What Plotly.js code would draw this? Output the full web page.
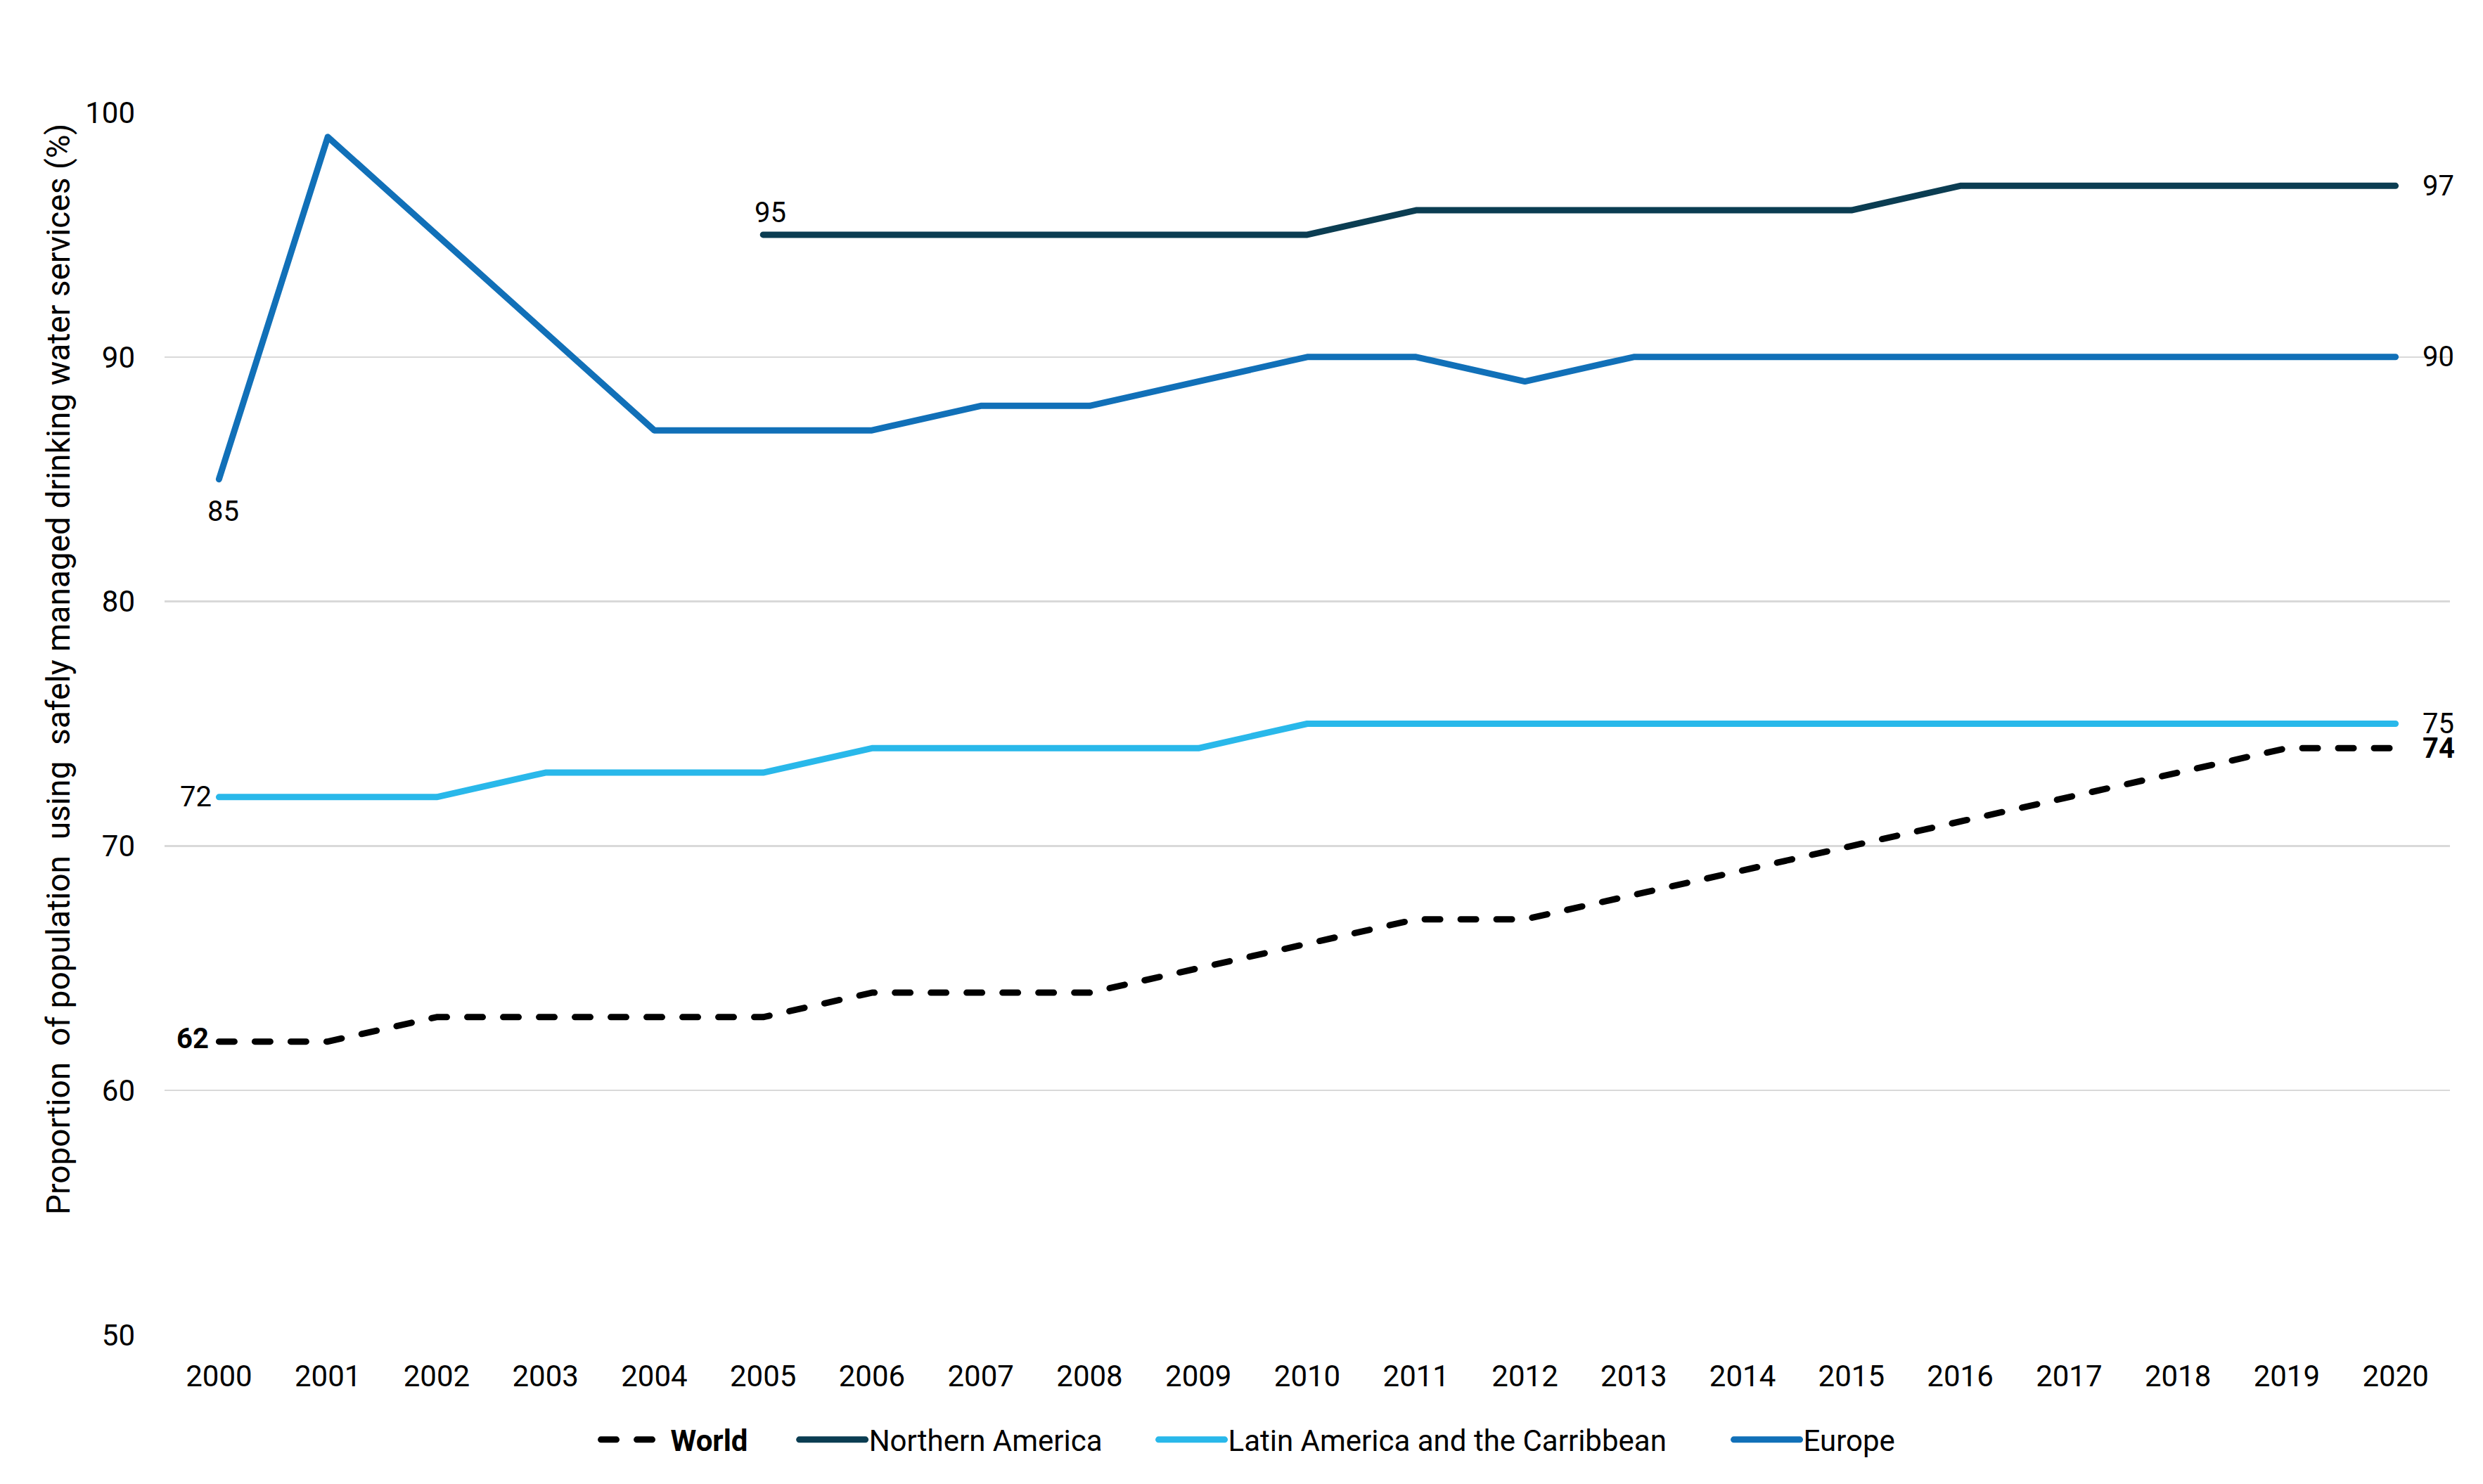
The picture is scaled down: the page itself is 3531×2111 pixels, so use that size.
<!DOCTYPE html>
<html>
<head>
<meta charset="utf-8">
<script src="https://cdn.plot.ly/plotly-3.0.1.min.js"></script>
<style>
html,body{margin:0;padding:0;background:#fff;}
#chart{width:3531px;height:2111px;}
.scatterlayer path.js-line, .legendlines path{stroke-linecap:round;stroke-linejoin:round;}
</style>
</head>
<body>
<div id="chart"></div>
<script>
const years = ['2000','2001','2002','2003','2004','2005','2006','2007','2008','2009','2010','2011','2012','2013','2014','2015','2016','2017','2018','2019','2020'];
const world = [62,62,63,63,63,63,64,64,64,65,66,67,67,68,69,70,71,72,73,74,74];
const northernAmerica = [null,null,null,null,null,95,95,95,95,95,95,96,96,96,96,96,97,97,97,97,97];
const latinAmerica = [72,72,72,73,73,73,74,74,74,74,75,75,75,75,75,75,75,75,75,75,75];
const europe = [85,99,95,91,87,87,87,88,88,89,90,90,89,90,90,90,90,90,90,90,90];
const seriesNames = ['<b>World</b>','Northern America','Latin America and the Carribbean','Europe'];
const yTitle = 'Proportion\u00A0 of population\u00A0 using\u00A0 safely managed drinking water services (%)';

const FONT = 'Roboto, "Noto Sans", sans-serif';
const colors = ['#000000','#0b3d52','#29b8ea','#1170b8'];
const legendIds = ['legend','legend2','legend3','legend4'];
const legendX = [0.1894, 0.2762, 0.4334, 0.6851];

function tr(i, y, dash){
  return {x: years, y: y, name: seriesNames[i], type: 'scatter', mode: 'lines', legend: legendIds[i],
    line: {color: colors[i], width: 9, dash: dash}, connectgaps: false, hoverinfo: 'skip'};
}
const data = [
  tr(0, world, '22px,29px'),
  tr(1, northernAmerica, 'solid'),
  tr(2, latinAmerica, 'solid'),
  tr(3, europe, 'solid')
];

const last = years.length - 1;
function lab(series, idx, opts){
  return Object.assign({xref:'x', yref:'y', x: idx, y: series[idx],
    text: String(series[idx]), showarrow:false, font:{family:FONT, size:40, color:'#000'}}, opts);
}
const annotations = [
  lab(northernAmerica, last, {xanchor:'left', yanchor:'middle', xshift:36}),
  lab(europe, last, {xanchor:'left', yanchor:'middle', xshift:36}),
  lab(latinAmerica, last, {xanchor:'left', yanchor:'middle', xshift:36}),
  lab(world, last, {xanchor:'left', yanchor:'middle', xshift:36, text:'<b>'+world[last]+'</b>'}),
  lab(latinAmerica, 0, {xanchor:'right', yanchor:'middle', xshift:-8}),
  lab(world, 0, {xanchor:'right', yanchor:'middle', xshift:-12, yshift:4, text:'<b>'+world[0]+'</b>'}),
  lab(europe, 0, {xanchor:'center', yanchor:'middle', xshift:6, yshift:-46}),
  lab(northernAmerica, 5, {xanchor:'center', yanchor:'middle', xshift:10, yshift:31}),
  {xref:'paper', yref:'paper', x:0, xshift:-151, y:0.5446, xanchor:'center', yanchor:'middle',
   textangle:-90, showarrow:false, text:yTitle, font:{family:FONT, size:46, color:'#000'}}
];

const layout = {
  width: 3531, height: 2111,
  paper_bgcolor:'#ffffff', plot_bgcolor:'#ffffff',
  margin:{l:234, r:47, t:160, b:212, pad:0},
  font:{family:FONT, size:42, color:'#000'},
  showlegend:true,
  xaxis:{type:'category', range:[-0.5, 20.5], showgrid:false, zeroline:false, showline:false,
    ticks:'', ticklabelstandoff:30, tickfont:{family:FONT, size:42, color:'#000'}, fixedrange:true},
  yaxis:{range:[50,100], tickvals:[50,60,70,80,90,100], showgrid:true, gridcolor:'#d9d9d9', gridwidth:2.5,
    zeroline:false, showline:false, ticks:'', ticklabelstandoff:41,
    tickfont:{family:FONT, size:42, color:'#000'}, fixedrange:true},
  annotations: annotations
};
legendIds.forEach(function(id, i){
  layout[id] = {orientation:'h', x: legendX[i], xanchor:'left', y:-0.0857, yanchor:'middle',
    font:{family:FONT, size:42, color:'#000'}, itemwidth:94, bgcolor:'rgba(0,0,0,0)', borderwidth:0};
});
Plotly.newPlot('chart', data, layout, {staticPlot:true, displayModeBar:false});
</script>
</body>
</html>
